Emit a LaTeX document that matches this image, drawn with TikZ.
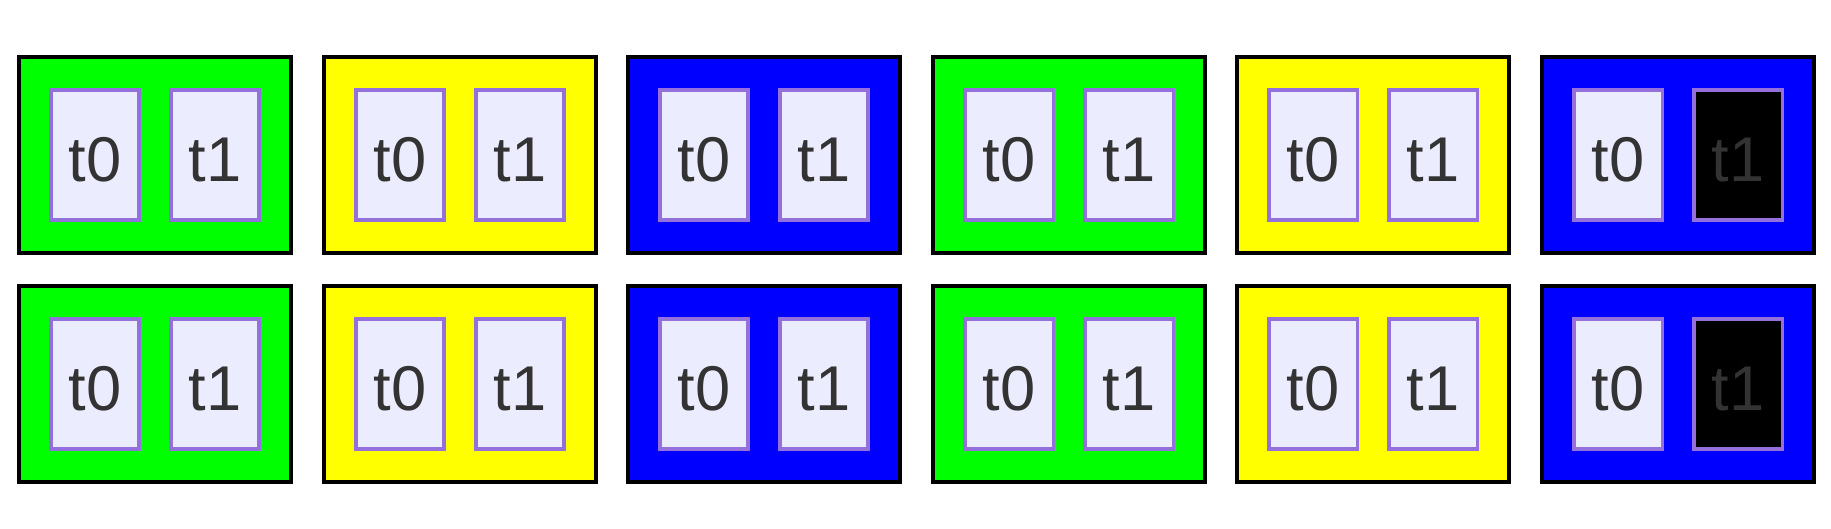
\documentclass[tikz,border=0pt]{standalone}
\usepackage{fontspec}
\setmainfont{Liberation Sans}
\definecolor{txtgray}{HTML}{333333}
\definecolor{taskfill}{HTML}{ECECFF}
\definecolor{taskline}{HTML}{9370DB}
\definecolor{grpgreen}{HTML}{00FF00}
\definecolor{grpyellow}{HTML}{FFFF00}
\definecolor{grpblue}{HTML}{0000FF}
\begin{document}
\begin{tikzpicture}[x=0.02cm,y=-0.02cm,
	grp/.style={draw=black,line width=2pt,minimum width=5.45cm,minimum height=3.92cm,inner sep=0pt},
	task/.style={draw=taskline,line width=2pt,minimum width=1.77cm,minimum height=2.6cm,inner sep=0pt,
		text height=30pt,text depth=0pt,text=txtgray,font=\fontsize{36}{42}\selectfont}]
		\fill[white] (0,0) rectangle (1831,528);
		\useasboundingbox (0,0) rectangle (1831,528);

		\foreach \r/\y in {1/155,2/384}
			\foreach \c/\x/\clr/\tf in {1/155/grpgreen/taskfill,2/460/grpyellow/taskfill,3/764/grpblue/taskfill,
				4/1069/grpgreen/taskfill,5/1373/grpyellow/taskfill,6/1678/grpblue/black}
			{
				\node[grp,fill=\clr] (g\r\c) at (\x,\y) {};
				\node[task,fill=taskfill] (ta\r\c) at (\x-60,\y) {t0};
				\node[task,fill=\tf] (tb\r\c) at (\x+60,\y) {t1};
			}
	\end{tikzpicture}
\end{document}
